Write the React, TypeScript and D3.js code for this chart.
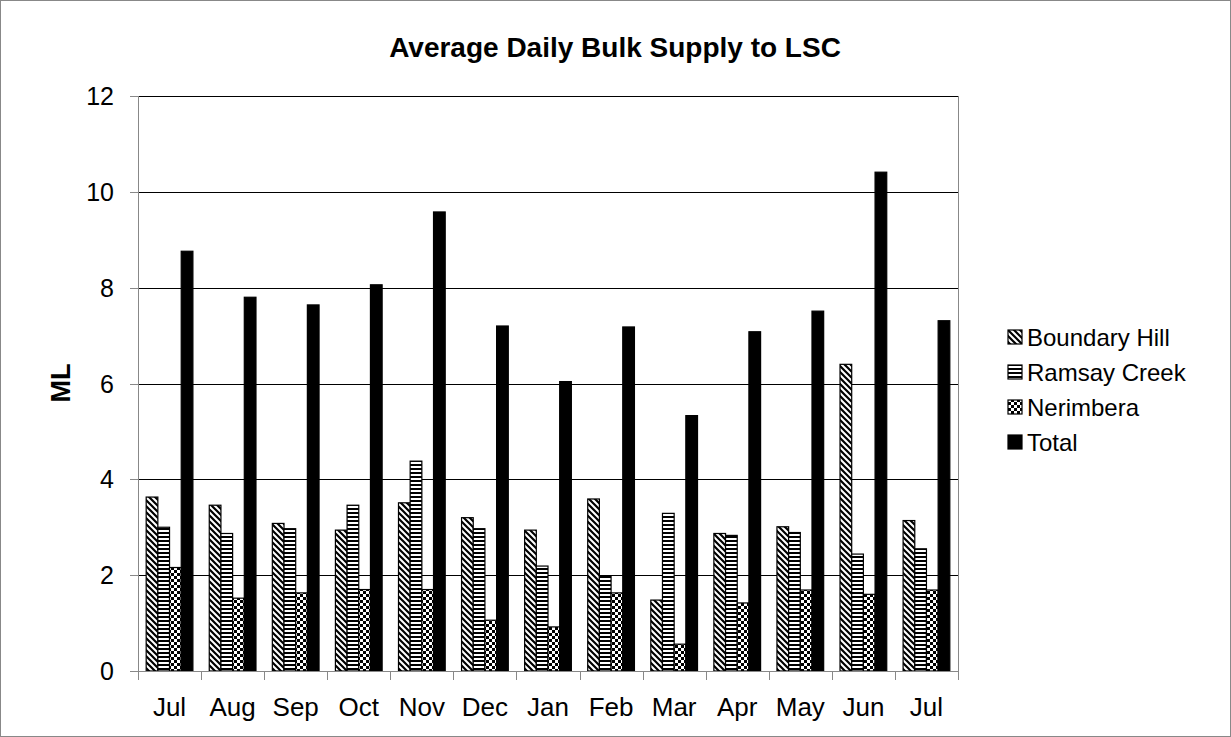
import React from "react";
import * as d3 from "d3";

const months = ["Jul", "Aug", "Sep", "Oct", "Nov", "Dec", "Jan", "Feb", "Mar", "Apr", "May", "Jun", "Jul"];
const boundaryHill = [3.63, 3.46, 3.08, 2.94, 3.51, 3.2, 2.94, 3.59, 1.48, 2.87, 3.01, 6.4, 3.14];
const ramsayCreek = [3.0, 2.87, 2.97, 3.46, 4.38, 2.97, 2.19, 1.97, 3.29, 2.83, 2.89, 2.44, 2.55];
const nerimbera = [2.16, 1.52, 1.63, 1.7, 1.7, 1.06, 0.92, 1.63, 0.56, 1.42, 1.69, 1.6, 1.69];
const total = [8.76, 7.8, 7.64, 8.06, 9.58, 7.2, 6.04, 7.18, 5.33, 7.08, 7.51, 10.41, 7.31];
const seriesNames = ["Boundary Hill", "Ramsay Creek", "Nerimbera", "Total"];
const yTicks = [0, 2, 4, 6, 8, 10, 12];

const W = 1231, H = 737;
const FONT = "Arial, 'Liberation Sans', sans-serif";

export default function App() {
  const left = 138, right = 958, top = 96, bottom = 671;
  const x0 = d3.scaleBand<number>().domain(months.map((_, i) => i)).range([left, right]).paddingInner(0).paddingOuter(0);
  const bw = x0.bandwidth();
  const barW = bw / 5.4;
  const x1 = d3.scaleBand<number>().domain([0, 1, 2, 3]).range([0.7 * barW, 0.7 * barW + 4 * barW]).padding(0);
  const y = d3.scaleLinear().domain([0, 12]).range([bottom, top]);
  const series = [boundaryHill, ramsayCreek, nerimbera, total];
  const fills = ["url(#pDiag)", "url(#pHoriz)", "url(#pCheck)", "#000"];

  const legendY = [337, 372, 407, 442];

  return (
    <svg width={W} height={H} style={{ position: "absolute", left: 0, top: 0, background: "#fff" }} fontFamily={FONT}>
      <defs>
        <pattern id="pDiag" patternUnits="userSpaceOnUse" width={6} height={6}>
          <rect width={6} height={6} fill="#fff" />
          <path d="M-1,-1 L7,7 M-4,2 L2,8 M2,-4 L8,2" stroke="#000" strokeWidth={2.2} />
        </pattern>
        <pattern id="pHoriz" patternUnits="userSpaceOnUse" width={4} height={4}>
          <rect width={4} height={4} fill="#fff" />
          <rect y={0} width={4} height={2} fill="#000" />
        </pattern>
        <pattern id="pCheck" patternUnits="userSpaceOnUse" width={6} height={6}>
          <rect width={6} height={6} fill="#fff" />
          <rect x={0} y={0} width={3} height={3} fill="#000" />
          <rect x={3} y={3} width={3} height={3} fill="#000" />
        </pattern>
      </defs>
      <rect x={0.5} y={0.5} width={W - 1} height={H - 1} fill="#fff" stroke="#888" />
      <text x={615} y={57} textAnchor="middle" fontWeight="bold" fontSize={28}>Average Daily Bulk Supply to LSC</text>

      {yTicks.filter((t) => t > 0).map((t) => (
        <line key={t} x1={left} x2={right} y1={Math.round(y(t)) + 0.5} y2={Math.round(y(t)) + 0.5} stroke="#000" strokeWidth={1} />
      ))}
      <line x1={right + 0.5} x2={right + 0.5} y1={top} y2={bottom} stroke="#888" />

      {series.map((vals, s) =>
        vals.map((v, i) => (
          <rect key={`${s}-${i}`} x={(x0(i) as number) + (x1(s) as number)} y={y(v)} width={barW} height={bottom - y(v)}
            fill={fills[s]} stroke="#000" strokeWidth={1.2} />
        ))
      )}

      <line x1={left + 0.5} x2={left + 0.5} y1={top} y2={bottom} stroke="#888" />
      <line x1={left} x2={right} y1={bottom + 0.5} y2={bottom + 0.5} stroke="#888" />
      {yTicks.map((t) => (
        <g key={t}>
          <line x1={left - 8} x2={left} y1={Math.round(y(t)) + 0.5} y2={Math.round(y(t)) + 0.5} stroke="#888" />
          <text x={114} y={y(t) + 9} textAnchor="end" fontSize={25}>{t}</text>
        </g>
      ))}
      {months.map((_, i) => (
        <line key={i} x1={Math.round(x0(i) as number) + 0.5} x2={Math.round(x0(i) as number) + 0.5} y1={bottom} y2={bottom + 9} stroke="#888" />
      ))}
      <line x1={right + 0.5} x2={right + 0.5} y1={bottom} y2={bottom + 9} stroke="#888" />
      {months.map((m, i) => (
        <text key={i} x={(x0(i) as number) + bw / 2} y={716} textAnchor="middle" fontSize={26}>{m}</text>
      ))}
      <text transform={`translate(70,383) rotate(-90)`} textAnchor="middle" fontWeight="bold" fontSize={27}>ML</text>

      {seriesNames.map((n, s) => (
        <g key={n}>
          <rect x={1008} y={legendY[s] - 7} width={14} height={14} fill={fills[s]} stroke="#000" strokeWidth={1.2} />
          <text x={1027} y={legendY[s] + 8.5} fontSize={24}>{n}</text>
        </g>
      ))}
    </svg>
  );
}
